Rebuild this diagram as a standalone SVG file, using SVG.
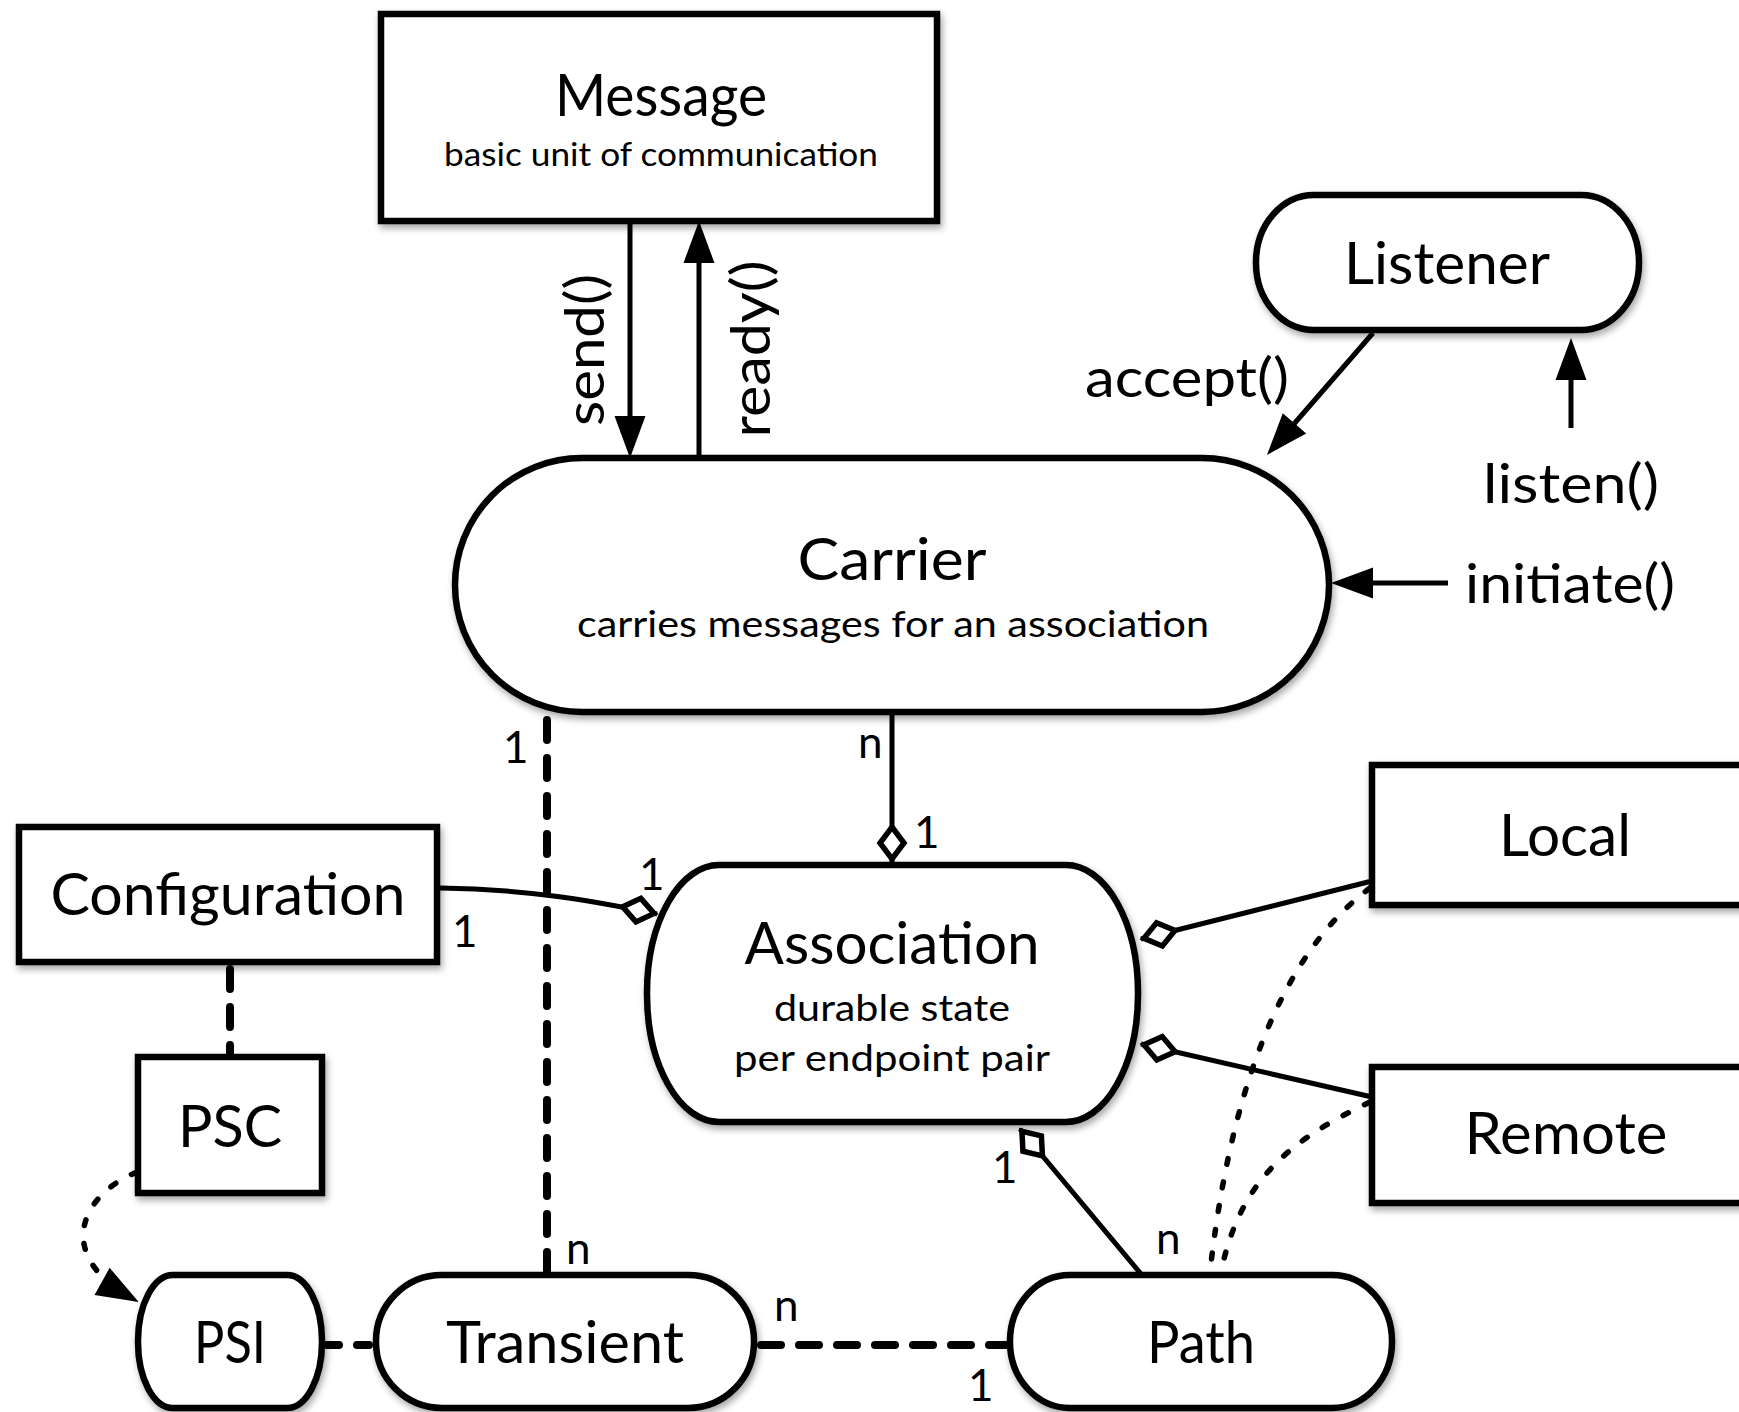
<svg xmlns="http://www.w3.org/2000/svg" width="1739" height="1412" viewBox="0 0 1739 1412">
<style>
.node{fill:#fff;stroke:#000;stroke-width:6.5;filter:url(#sh)}
.t{font-family:Lato,"Open Sans","DejaVu Sans",sans-serif;fill:#000;text-anchor:middle}
.title{font-size:58px}
.lbl{font-family:Lato,"Open Sans","DejaVu Sans",sans-serif;fill:#000;font-size:54px}
.m{font-family:Lato,"Open Sans","DejaVu Sans",sans-serif;fill:#000;font-size:44px}
.solid{fill:none;stroke:#000;stroke-width:5}
.dash{fill:none;stroke:#000;stroke-width:8;stroke-dasharray:20 18;stroke-linecap:round}
.dot{fill:none;stroke:#000;stroke-width:5.5;stroke-dasharray:6 18;stroke-linecap:round}
</style>
<defs>
<filter id="sh" x="-10%" y="-10%" width="125%" height="130%">
<feDropShadow dx="2" dy="4" stdDeviation="3.5" flood-color="#000" flood-opacity="0.35"/>
</filter>
<marker id="arrow" markerUnits="userSpaceOnUse" markerWidth="50" markerHeight="40" refX="32" refY="15.5" orient="auto" overflow="visible">
<path d="M0,0 L42,15.5 L0,31 z" fill="#000"/>
</marker>
<marker id="diamond" markerUnits="userSpaceOnUse" markerWidth="50" markerHeight="40" refX="35" refY="0" orient="auto" overflow="visible">
<path d="M0,0 L16,-12 L32,0 L16,12 z" fill="#fff" stroke="#000" stroke-width="5.5" stroke-linejoin="miter"/>
</marker>
</defs>

<g id="connectors">
<line class="solid" x1="630" y1="221" x2="630" y2="448" marker-end="url(#arrow)"/>
<line class="solid" x1="699" y1="458" x2="699" y2="231" marker-end="url(#arrow)"/>
<line class="solid" x1="1373" y1="333" x2="1273.5" y2="447.5" marker-end="url(#arrow)"/>
<line class="solid" x1="1571" y1="428" x2="1571" y2="348" marker-end="url(#arrow)"/>
<line class="solid" x1="1448" y1="583" x2="1341" y2="583" marker-end="url(#arrow)"/>
<line class="solid" x1="892" y1="713" x2="892" y2="862" marker-end="url(#diamond)"/>
<path class="solid" d="M440,888 C520,889 585,899 657,914" marker-end="url(#diamond)"/>
<line class="solid" x1="1372" y1="881" x2="1141" y2="939" marker-end="url(#diamond)"/>
<line class="solid" x1="1372" y1="1097" x2="1141" y2="1044" marker-end="url(#diamond)"/>
<line class="solid" x1="1141" y1="1274" x2="1020" y2="1129" marker-end="url(#diamond)"/>
<line class="dash" x1="547" y1="720" x2="547" y2="1271"/>
<line class="dash" x1="230" y1="969" x2="230" y2="1053"/>
<line class="dash" x1="327" y1="1345" x2="372" y2="1345" style="stroke-dasharray:12 18"/>
<line class="dash" x1="761" y1="1345" x2="1007" y2="1345"/>
<path class="dot" d="M1370,888 C1300,940 1235,1050 1210,1272"/>
<path class="dot" d="M1370,1102 C1290,1140 1240,1180 1221,1272"/>
<path class="dot" d="M137,1172 C80,1195 55,1255 130,1297" marker-end="url(#arrow)"/>
</g>

<g id="message">
<rect class="node" x="381" y="14" width="556" height="207"/>
<text class="t title" x="661" y="116" textLength="212" lengthAdjust="spacingAndGlyphs">Message</text>
<text class="t" style="font-size:33px" x="661" y="166" textLength="434" lengthAdjust="spacingAndGlyphs">basic unit of communication</text>
</g>

<g id="listener">
<rect class="node" x="1256" y="195" width="383" height="135" rx="58" ry="67"/>
<text class="t title" x="1447" y="284" textLength="206" lengthAdjust="spacingAndGlyphs">Listener</text>
</g>

<g id="carrier">
<rect class="node" x="455" y="458" width="874" height="254" rx="127" ry="127"/>
<text class="t title" x="892" y="580" textLength="189" lengthAdjust="spacingAndGlyphs">Carrier</text>
<text class="t" style="font-size:37px" x="893" y="637" textLength="632" lengthAdjust="spacingAndGlyphs">carries messages for an association</text>
</g>

<g id="configuration">
<rect class="node" x="19" y="827" width="418" height="135"/>
<text class="t title" x="228" y="915" textLength="355" lengthAdjust="spacingAndGlyphs">Configuration</text>
</g>

<g id="psc">
<rect class="node" x="138" y="1057" width="184" height="136"/>
<text class="t title" x="230" y="1147" textLength="104" lengthAdjust="spacingAndGlyphs">PSC</text>
</g>

<g id="association">
<rect class="node" x="647" y="865" width="491" height="257" rx="72" ry="128"/>
<text class="t title" x="892" y="964" textLength="295" lengthAdjust="spacingAndGlyphs">Association</text>
<text class="t" style="font-size:36px" x="892" y="1021" textLength="236" lengthAdjust="spacingAndGlyphs">durable state</text>
<text class="t" style="font-size:36px" x="892" y="1071" textLength="316" lengthAdjust="spacingAndGlyphs">per endpoint pair</text>
</g>

<g id="local">
<rect class="node" x="1372" y="765" width="390" height="140"/>
<text class="t title" x="1565" y="856" textLength="132" lengthAdjust="spacingAndGlyphs">Local</text>
</g>

<g id="remote">
<rect class="node" x="1372" y="1067" width="390" height="136"/>
<text class="t title" x="1566" y="1154" textLength="203" lengthAdjust="spacingAndGlyphs">Remote</text>
</g>

<g id="psi">
<rect class="node" x="138" y="1275" width="184" height="133" rx="35" ry="66"/>
<text class="t title" x="230" y="1363" textLength="72" lengthAdjust="spacingAndGlyphs">PSI</text>
</g>

<g id="transient">
<rect class="node" x="376" y="1275" width="378" height="133" rx="66" ry="66"/>
<text class="t title" x="565" y="1363" textLength="238" lengthAdjust="spacingAndGlyphs">Transient</text>
</g>

<g id="path">
<rect class="node" x="1010" y="1275" width="382" height="133" rx="60" ry="66"/>
<text class="t title" x="1201" y="1363" textLength="108" lengthAdjust="spacingAndGlyphs">Path</text>
</g>

<g id="labels">
<text class="lbl" transform="translate(604,350) rotate(-90)" text-anchor="middle" textLength="152" lengthAdjust="spacingAndGlyphs">send()</text>
<text class="lbl" transform="translate(770,349) rotate(-90)" text-anchor="middle" textLength="177" lengthAdjust="spacingAndGlyphs">ready()</text>
<text class="lbl" x="1085" y="397" textLength="204" lengthAdjust="spacingAndGlyphs">accept()</text>
<text class="lbl" x="1483" y="503" textLength="176" lengthAdjust="spacingAndGlyphs">listen()</text>
<text class="lbl" x="1465" y="603" textLength="210" lengthAdjust="spacingAndGlyphs">initiate()</text>
<text class="m" x="858" y="758">n</text>
<text class="m" x="914" y="848">1</text>
<text class="m" x="639" y="890">1</text>
<text class="m" x="452" y="947">1</text>
<text class="m" x="503" y="763">1</text>
<text class="m" x="566" y="1264">n</text>
<text class="m" x="774" y="1321">n</text>
<text class="m" x="968" y="1401">1</text>
<text class="m" x="992" y="1183">1</text>
<text class="m" x="1156" y="1254">n</text>
</g>
</svg>
